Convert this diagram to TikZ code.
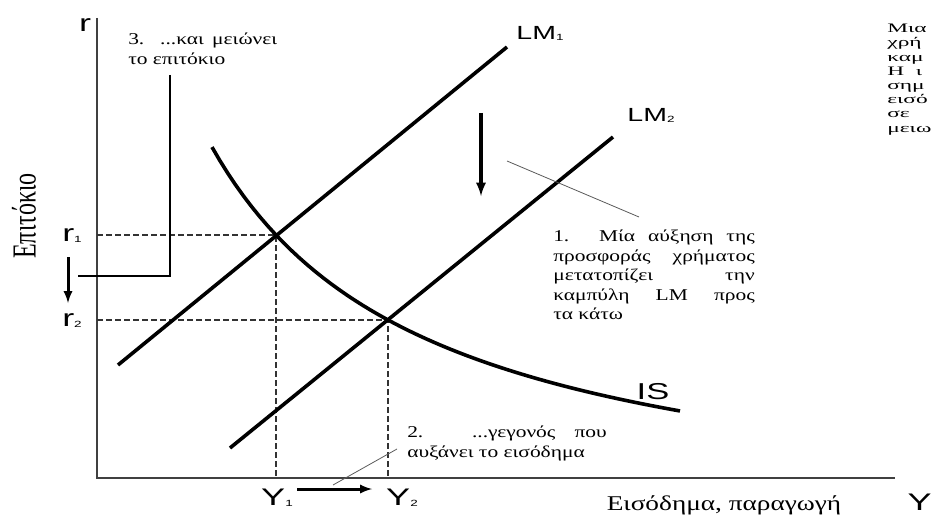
\documentclass[tikz,border=0pt]{standalone}
\usepackage{fontspec}
\setmainfont{Liberation Serif}
\newfontfamily\labelfont{Liberation Sans}
\usetikzlibrary{positioning}
\newcommand{\lowidx}[1]{\raisebox{-1pt}{\fontsize{9}{9}\selectfont #1}}

\begin{document}
\begin{tikzpicture}[x=1pt, y=-1pt,
  curve/.style={line width=3.6pt},
  axis/.style={line width=1.6pt, draw=black!75},
  guide/.style={line width=1.2pt, draw=black!80, dash pattern=on 6pt off 3pt},
  leader/.style={line width=0.8pt, draw=black!65},
  callout/.style={line width=1.8pt},
  shiftarrow/.style={-latex, line width=3pt},
  wide/.style={xscale=1.5, inner sep=0pt},
  serifwide/.style={xscale=1.3, inner sep=0pt},
  curvelabel/.style={wide, font=\labelfont\fontsize{19}{19}\selectfont},
  ticklabel/.style={wide, font=\labelfont\fontsize{24}{24}\selectfont},
  note/.style={serifwide, font=\fontsize{16.5}{19.5}\selectfont,
    align=justify, anchor=north west}
]
\useasboundingbox (0,0) rectangle (933,516);

% axes and equilibria
\coordinate (O) at (97,478);
\coordinate (ytop) at (97,18);
\coordinate (xend) at (895,478);
\coordinate (E1) at (276,235);
\coordinate (E2) at (388,320);
\draw[axis] (ytop) -- (O) -- (xend);

\draw[guide] (E1 -| O) -- (E1) -- (E1 |- O);
\draw[guide] (E2 -| O) -- (E2) -- (E2 |- O);

% curves
\draw[curve] (118,365) -- (507,47);
\draw[curve] (230,448) -- (613,137);
\draw[curve] plot[domain=212:680, samples=60] (\x, {533.6 - 840.66/((\x+5.5)/100)});

\node[curvelabel] (lm1) at (540,33) {LM\lowidx{1}};
\node[curvelabel] (lm2) at (651,115) {LM\lowidx{2}};
\node[curvelabel, font=\labelfont\fontsize{23}{23}\selectfont] (is) at (653,392) {IS};

% axis labels
\node[ticklabel] (r) at (85,25) {r};
\node[ticklabel] (r1) at (72,236) {r\lowidx{1}};
\node[ticklabel] (r2) at (72,321) {r\lowidx{2}};
\node[ticklabel] (y1) at (277,498) {Y\lowidx{1}};
\node[ticklabel] (y2) at (402,498) {Y\lowidx{2}};
\node[ticklabel, anchor=east] (y) at (932,502) {Y};
\node[serifwide, font=\fontsize{21}{21}\selectfont] (income) at (724,505)
  {Εισόδημα, παραγωγή};
\node[xscale=1.4, rotate=90, inner sep=0pt, font=\fontsize{24}{24}\selectfont] (rate) at (24,216)
  {Επιτόκιο};

% shifts
\coordinate (dr1) at (68,257);
\coordinate (dr2) at (68,303);
\draw[shiftarrow] (dr1) -- (dr2);
\coordinate (dlm1) at (481,113);
\coordinate (dlm2) at (481,196);
\draw[shiftarrow, line width=3.5pt] (dlm1) -- (dlm2);
\coordinate (dy1) at (297,489);
\coordinate (dy2) at (372,489);
\draw[shiftarrow] (dy1) -- (dy2);

% notes
\node[note, text width=155pt] (note1) at (553,230)
  {1. Μία αύξηση της\linebreak προσφοράς χρήματος\linebreak μετατοπίζει την\linebreak
   καμπύλη LM προς\linebreak τα κάτω};
\node[note, text width=153.5pt] (note2) at (407,426)
  {2. ...γεγονός που\linebreak αυξάνει το εισόδημα};
\node[note, text width=114.5pt] (note3) at (128,33)
  {3. ...και μειώνει\linebreak το επιτόκιο};

\coordinate (c1a) at (507,161);
\coordinate (c1b) at (639,217);
\draw[leader] (c1a) -- (c1b);
\coordinate (c2a) at (397,449);
\coordinate (c2b) at (333,485);
\draw[leader] (c2a) -- (c2b);
\coordinate (c3a) at (170,75);
\coordinate (c3b) at (78,276);
\draw[callout] (c3a) |- (c3b);

% text cut off at the right edge
\begin{scope}
  \clip (880,0) rectangle (933,516);
  \node[xscale=1.8, inner sep=0pt, font=\fontsize{13}{14.2}\selectfont, align=left,
    anchor=north west] (cut) at (887,24)
    {Μια\\ χρή\\ καμ\\ Η\ \ ι\\ σημ\\ εισό\\ σε\\ μειω};
\end{scope}

\end{tikzpicture}
\end{document}
